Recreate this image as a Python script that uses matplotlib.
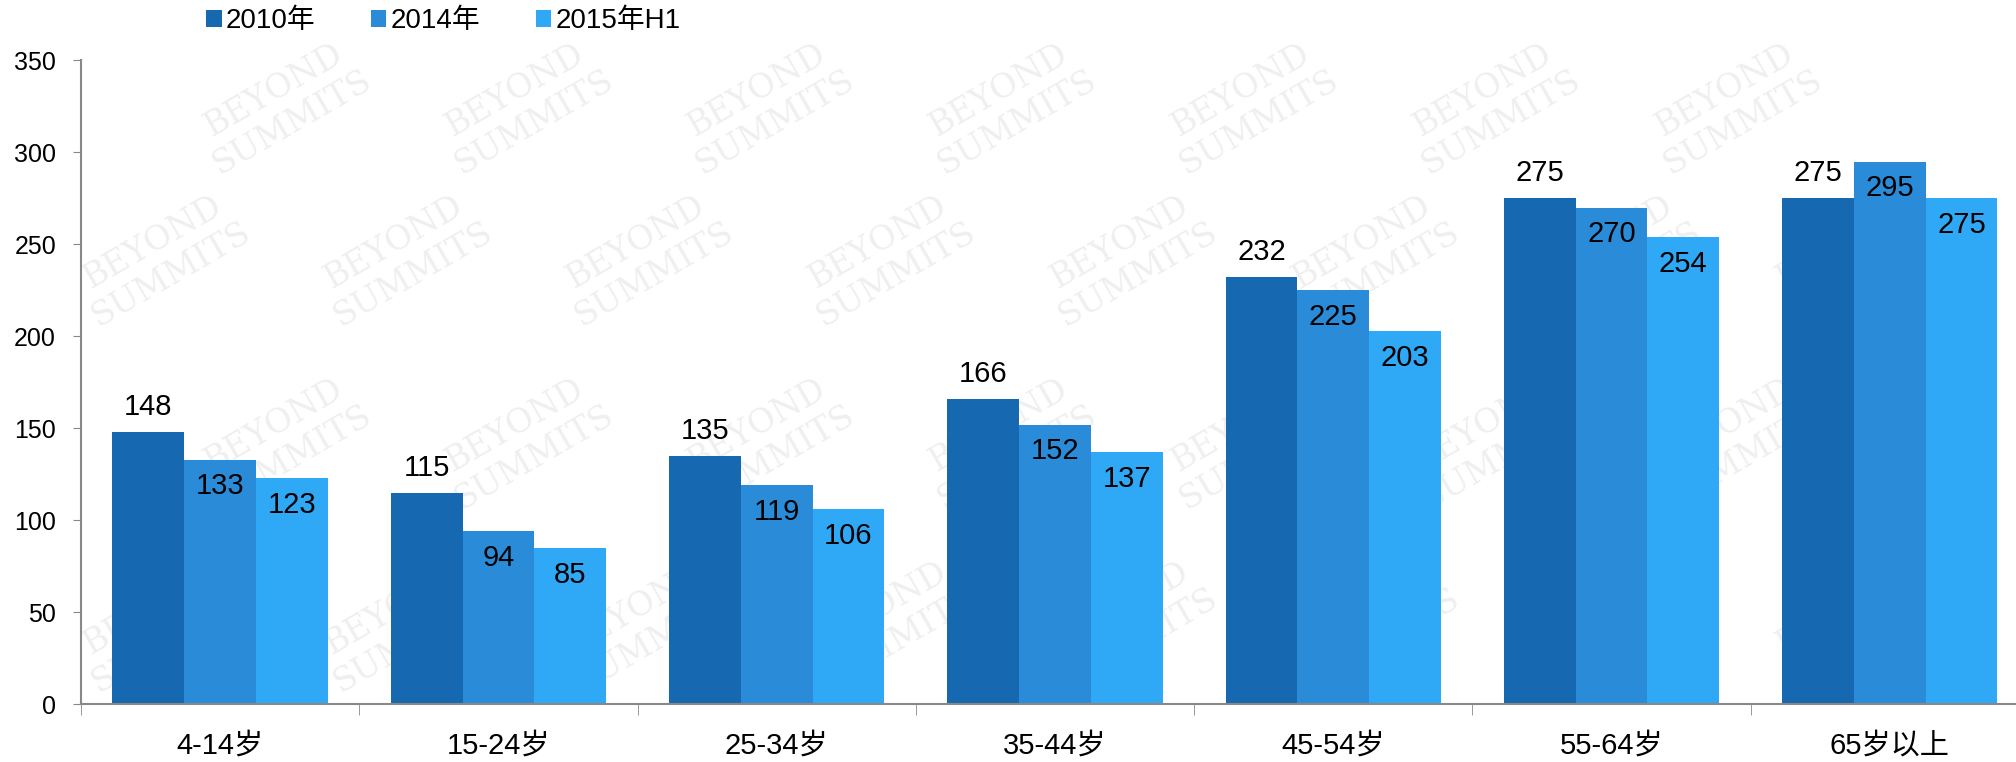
import matplotlib
matplotlib.use("Agg")
import matplotlib.pyplot as plt
import numpy as np

plt.rcParams["font.family"] = ["Liberation Sans", "Noto Sans CJK SC", "DejaVu Sans"]

categories = ["4-14岁", "15-24岁", "25-34岁", "35-44岁", "45-54岁", "55-64岁", "65岁以上"]
series_names = ["2010年", "2014年", "2015年H1"]
v2010 = [148, 115, 135, 166, 232, 275, 275]
v2014 = [133, 94, 119, 152, 225, 270, 295]
v2015h1 = [123, 85, 106, 137, 203, 254, 275]
yticks = [0, 50, 100, 150, 200, 250, 300, 350]

colors = ["#1669B1", "#2A8CD8", "#2FA8F5"]

fig = plt.figure(figsize=(20.16, 7.62), dpi=100)

# faint watermark behind everything, kept inside the canvas
for row, wy in enumerate([0.18, 0.42, 0.66, 0.86]):
    for col in range(8):
        wx = 0.08 + col * 0.12 + (row % 2) * 0.06
        if wx > 0.93:
            continue
        fig.text(wx, wy, "BEYOND\nSUMMITS", rotation=30, fontsize=24, color="#efefef",
                 ha="center", va="center", family="DejaVu Serif", zorder=-5)

ax = fig.add_axes([0.0402, 0.0759, 0.9662, 0.8448])
ax.set_facecolor("none")

x = np.arange(len(categories))
w = 0.258
series = [v2010, v2014, v2015h1]
for i, (vals, name, c) in enumerate(zip(series, series_names, colors)):
    bars = ax.bar(x + (i - 1) * w, vals, w, color=c, label=name, zorder=2)
    for b, v in zip(bars, vals):
        cx = b.get_x() + b.get_width() / 2
        if i == 0:
            ax.text(cx, v + 6, str(v), ha="center", va="bottom", fontsize=21, zorder=3)
        else:
            ax.text(cx, v - 7, str(v), ha="center", va="top", fontsize=21, zorder=3)

ax.set_xlim(-0.5, len(categories) - 0.5)
ax.set_ylim(0, 350)
ax.set_yticks(yticks)
ax.tick_params(axis="y", labelsize=18, length=6, color="#888888", pad=12)

ax.set_xticks(x)
ax.set_xticklabels(categories, fontsize=21)
ax.set_xticks(np.arange(len(categories) + 1) - 0.5, minor=True)
ax.tick_params(axis="x", which="major", length=0, pad=20)
ax.tick_params(axis="x", which="minor", length=8, color="#888888")

for s in ("top", "right"):
    ax.spines[s].set_visible(False)
for s in ("left", "bottom"):
    ax.spines[s].set_color("#888888")
    ax.spines[s].set_linewidth(1.5)

fig.legend(loc="center left", bbox_to_anchor=(0.090, 0.972), ncol=3, frameon=False,
           fontsize=20, handlelength=0.55, handleheight=0.55, handletextpad=0.15,
           columnspacing=2.0)

fig.savefig("out.png", dpi=100)
